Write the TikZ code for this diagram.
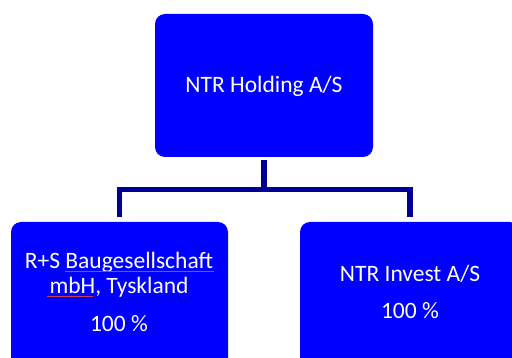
\documentclass[tikz,border=0pt]{standalone}
\usepackage{fontspec}
\setmainfont{Carlito}
\definecolor{boxblue}{RGB}{0,0,255}
\definecolor{navy}{RGB}{0,0,150}
\definecolor{squig}{RGB}{205,60,90}
\begin{document}
\begin{tikzpicture}[x=1pt,y=-1pt,
  orgbox/.style={draw=none,fill=boxblue,rounded corners=10pt,inner sep=0pt,outer sep=0pt},
  lbl/.style={text=white,font=\fontsize{23.5}{25}\selectfont,anchor=base,inner sep=0pt},
  conn/.style={draw=navy,line width=5.5pt,line join=miter}]
\useasboundingbox (0,0) rectangle (512,358);
\clip (0,0) rectangle (512,358);
\node[orgbox,minimum width=218pt,minimum height=143pt] (top) at (264,85.5) {};
\node[orgbox,minimum width=217pt,minimum height=180pt] (left) at (119.5,312) {};
\node[orgbox,minimum width=220pt,minimum height=180pt] (right) at (410,312) {};
\node[lbl] (toptext) at (264,93) {NTR Holding A/S};
\node[lbl] (l1) at (119,269) {R+S Baugesellschaft};
\node[lbl] (l2) at (119,294) {mbH, Tyskland};
\node[lbl] (l3) at (119,332) {100 \%};
\node[lbl] (r1) at (410,282) {NTR Invest A/S};
\node[lbl] (r2) at (410,319) {100 \%};
\coordinate (bar) at (264,189.5);
\draw[conn] ([yshift=-3pt]top.south) -- (top.south |- bar);
\draw[conn] ([yshift=5pt]left.north) -- (left.north |- bar) -- (right.north |- bar) -- ([yshift=5pt]right.north);
\draw[squig,line width=0.7pt] (65,271) -- (214,271);
\draw[squig,line width=0.7pt] (47,296) -- (93,296);
\end{tikzpicture}
\end{document}
